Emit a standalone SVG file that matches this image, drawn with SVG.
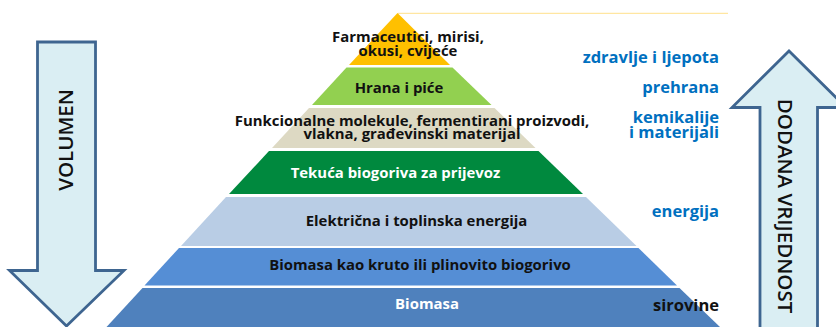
<svg xmlns="http://www.w3.org/2000/svg" width="836" height="327" viewBox="0 0 836 327">
<style>
.t{font-family:"Open Sans","Noto Sans","DejaVu Sans",sans-serif;font-weight:700;font-size:14.9px;fill:#111;text-anchor:middle}
.w{fill:#fff}
.r{font-family:"Open Sans","Noto Sans","DejaVu Sans",sans-serif;font-weight:700;font-size:16.5px;fill:#0070C0;text-anchor:end}
.a{fill:#DAEEF3;stroke:#3E6590;stroke-width:2.8;stroke-linejoin:miter}
.v{font-family:"Open Sans","Noto Sans","DejaVu Sans",sans-serif;font-weight:600;font-size:20.5px;fill:#111;text-anchor:middle}
</style>
<rect width="836" height="327" fill="#fff"/>
<g id="connectors">
<line x1="398" y1="13.3" x2="728" y2="13.3" stroke="#FFE08A" stroke-width="1"/>
</g>
<g id="level-pharma">
<polygon points="397.5,13 349,65 450,65" fill="#FFC000"/>
<text class="t" x="408" y="42">Farmaceutici, mirisi,</text>
<text class="t" x="408" y="56">okusi, cvijeće</text>
</g>
<g id="level-food">
<polygon points="346.5,67.5 452.5,67.5 491.5,105 312,105" fill="#92D050"/>
<text class="t" x="399" y="93">Hrana i piće</text>
</g>
<g id="level-chem">
<polygon points="309,108 494.5,108 535.5,148 272,148" fill="#DDD9C3"/>
<text class="t" x="412" y="125.5">Funkcionalne molekule, fermentirani proizvodi,</text>
<text class="t" x="412" y="138.5">vlakna, građevinski materijal</text>
</g>
<g id="level-fuel">
<polygon points="269,151 538.5,151 583,194 229,194" fill="#00893E"/>
<text class="t w" x="395.5" y="178">Tekuća biogoriva za prijevoz</text>
</g>
<g id="level-energy">
<polygon points="226,197 586,197 636.5,246 181,246" fill="#B9CDE5"/>
<text class="t" x="416.5" y="226">Električna i toplinska energija</text>
</g>
<g id="level-solid">
<polygon points="179,248 638.5,248 677,285.5 144.5,285.5" fill="#558ED5"/>
<text class="t" x="420" y="270">Biomasa kao kruto ili plinovito biogorivo</text>
</g>
<g id="level-biomass">
<polygon points="142.5,288 679.5,288 720,327 106.5,327" fill="#4F81BD"/>
<text class="t w" x="427" y="309">Biomasa</text>
</g>
<g id="labels">
<text class="r" x="719" y="63">zdravlje i ljepota</text>
<text class="r" x="719" y="93">prehrana</text>
<text class="r" x="719" y="123">kemikalije</text>
<text class="r" x="719" y="137.5">i materijali</text>
<text class="r" x="719" y="216.5">energija</text>
<text class="r" x="719" y="310.5" style="fill:#111">sirovine</text>
</g>
<g id="arrow-volumen">
<polygon class="a" points="37.5,42 95.5,42 95.5,270.5 124,270.5 66.5,326 9.5,270.5 37.5,270.5"/>
<text class="v" transform="translate(73,140) rotate(-90)">VOLUMEN</text>
</g>
<g id="arrow-dodana">
<polygon class="a" points="760,330 760,107.5 732,107.5 789,51 846,107.5 817.5,107.5 817.5,330"/>
<text class="v" transform="translate(778,206) rotate(90)">DODANA VRIJEDNOST</text>
</g>
</svg>
